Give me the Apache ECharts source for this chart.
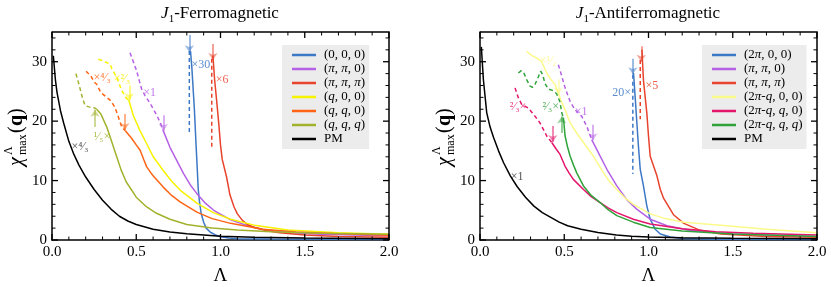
<!DOCTYPE html>
<html><head><meta charset="utf-8">
<script src="https://cdn.jsdelivr.net/npm/echarts@6/dist/echarts.min.js"></script>
<style>html,body{margin:0;padding:0;background:#fff}#c{width:831px;height:287px}</style>
</head><body><div id="c"></div>
<script>
// ---------- Axis ticks ----------
const xTickInterval = 0.5, xMin = 0, xMax = 2;
const yTickInterval = 10, yMin = 0, yMax = 35;
const xMajorTicks = [0, 0.5, 1.0, 1.5, 2.0];
const xMinorTicks = [0.1,0.2,0.3,0.4,0.6,0.7,0.8,0.9,1.1,1.2,1.3,1.4,1.6,1.7,1.8,1.9];
const yMajorTicks = [0, 10, 20, 30];
const yMinorTicks = [2,4,6,8,12,14,16,18,22,24,26,28,32,34];

// ---------- J1-Ferromagnetic (left) ----------
const fmPM = [[0.008,31],[0.02,27],[0.03,24.8],[0.05,21.8],[0.07,19.6],[0.1,16.6],[0.13,14.4],[0.16,12.6],[0.2,10.6],[0.25,8.5],[0.3,6.7],[0.35,5.2],[0.4,4.0],[0.45,3.2],[0.5,2.6],[0.6,1.8],[0.7,1.35],[0.8,1.05],[0.9,0.85],[1.0,0.65],[1.2,0.45],[1.5,0.32],[2.0,0.22]];
const fmQQQdash = [[0.142,28.0],[0.16,26.2],[0.18,24.0],[0.196,22.6],[0.22,22.4],[0.255,22.2],[0.265,22.0]];
const fmQQQ = [[0.265,22.0],[0.29,21.2],[0.325,19.0],[0.355,16.5],[0.384,14.0],[0.41,11.8],[0.44,9.8],[0.5,7.2],[0.56,5.6],[0.62,4.5],[0.7,3.5],[0.8,2.6],[0.95,2.0],[1.1,1.7],[1.3,1.4],[1.6,1.15],[2.0,0.95]];
const fmQQ0dash = [[0.202,28.4],[0.23,27.6],[0.25,26.6],[0.265,26.2],[0.29,24.8],[0.325,24.0],[0.35,23.4],[0.374,22.3],[0.395,20.6],[0.414,19.0],[0.435,18.4]];
const fmQQ0 = [[0.435,18.4],[0.47,17.2],[0.5,16.0],[0.523,15.1],[0.545,13.5],[0.562,12.3],[0.6,10.8],[0.66,8.9],[0.71,7.5],[0.76,6.4],[0.86,4.7],[0.95,3.6],[1.06,2.8],[1.25,1.8],[1.45,1.35],[1.67,1.1],[2.0,0.8]];
const fmQ00dash = [[0.275,30.4],[0.3,30.2],[0.32,29.9],[0.345,29.6],[0.355,28.8],[0.384,27.4],[0.413,25.2],[0.443,23.8],[0.455,23.6]];
const fmQ00 = [[0.455,23.6],[0.483,20.9],[0.522,18.4],[0.562,16.2],[0.601,14.0],[0.66,11.7],[0.71,9.9],[0.76,8.4],[0.86,6.2],[0.957,4.6],[1.06,3.5],[1.2,2.5],[1.4,1.7],[1.7,1.2],[2.0,0.95]];
const fmPP0dash = [[0.463,31.5],[0.48,30.2],[0.502,28.5],[0.52,26.6],[0.532,25.4],[0.552,24.3],[0.58,23.1],[0.62,21.1],[0.645,19.6],[0.66,18.4]];
const fmPP0 = [[0.66,18.4],[0.70,15.6],[0.74,13.4],[0.78,11.2],[0.82,9.3],[0.86,7.8],[0.91,6.2],[0.96,5.0],[1.06,3.4],[1.15,2.5],[1.25,1.8],[1.4,1.25],[1.6,0.95],[2.0,0.7]];
const fm000dash = [[0.815,31.8],[0.815,18.1]];
const fm000 = [[0.822,31.8],[0.83,29],[0.845,22],[0.855,16],[0.862,12],[0.868,8.5],[0.875,6.5],[0.885,4.5],[0.9,3.0],[0.915,2.0],[0.94,1.3],[0.97,0.85],[1.0,0.55],[1.05,0.32],[1.1,0.22],[1.3,0.15],[2.0,0.1]];
const fmPPPdash = [[0.948,30.5],[0.948,15.6]];
const fmPPP = [[0.955,31],[0.965,27],[0.977,23.5],[0.99,19.5],[1.0,16],[1.01,13.6],[1.036,10.6],[1.056,7.6],[1.08,5.6],[1.1,4.4],[1.13,3.3],[1.16,2.6],[1.2,2.1],[1.27,1.6],[1.35,1.2],[1.5,0.85],[1.7,0.6],[2.0,0.45]];

// ---------- J1-Antiferromagnetic (right) ----------
const afPM = [[0.008,32.5],[0.02,27],[0.04,21.4],[0.06,19],[0.08,17.3],[0.11,15],[0.14,13],[0.18,10.8],[0.22,9.0],[0.27,7.2],[0.32,5.7],[0.37,4.6],[0.42,3.8],[0.47,3.0],[0.52,2.4],[0.6,1.8],[0.7,1.25],[0.81,0.85],[0.9,0.65],[1.0,0.5],[1.2,0.38],[1.5,0.28],[2.0,0.2]];
const afQQ0dash = [[0.208,25.6],[0.228,23.9],[0.248,22.8],[0.287,22.2],[0.307,21.5],[0.327,20.8],[0.356,19.7],[0.38,18.4],[0.396,17.5],[0.426,16.4]];
const afQQ0 = [[0.426,16.4],[0.45,15.4],[0.475,14.4],[0.505,12.4],[0.53,11.2],[0.554,10.2],[0.614,8.5],[0.66,7.3],[0.713,6.3],[0.76,5.4],[0.812,4.6],[0.91,3.5],[1.01,2.7],[1.2,1.9],[1.4,1.4],[1.62,1.15],[2.0,0.85]];
const afQQQdash = [[0.228,28.1],[0.245,28.5],[0.262,28.0],[0.277,27.0],[0.297,25.9],[0.312,25.7],[0.327,26.2],[0.347,27.5],[0.36,28.4],[0.372,27.8],[0.386,26.3],[0.406,25.4],[0.436,25.1],[0.455,24.6],[0.475,23.2],[0.485,21.4],[0.495,20.6]];
const afQQQ = [[0.495,20.6],[0.505,17.5],[0.52,15.6],[0.535,14.1],[0.555,12.6],[0.574,11.3],[0.614,9.1],[0.66,7.5],[0.713,6.3],[0.76,5.1],[0.812,4.1],[0.91,3.0],[1.01,2.1],[1.2,1.5],[1.5,1.0],[2.0,0.6]];
const afQ00 = [[0.277,31.7],[0.31,31.0],[0.337,30.6],[0.366,30.0],[0.396,28.1],[0.416,27.2],[0.446,26.1],[0.465,24.7],[0.48,23.5],[0.505,21.9],[0.535,19.7],[0.574,18.0],[0.614,16.4],[0.673,14.1],[0.733,11.3],[0.77,9.8],[0.812,8.5],[0.86,7.1],[0.91,6.0],[1.01,4.4],[1.1,3.6],[1.21,3.0],[1.43,2.5],[1.7,1.8],[2.0,1.2]];
const afPP0dash = [[0.465,29.5],[0.485,27.6],[0.505,25.6],[0.535,23.3],[0.564,21.9],[0.604,20.8],[0.634,19.1],[0.663,16.9]];
const afPP0 = [[0.663,16.9],[0.713,14.1],[0.753,11.9],[0.812,9.1],[0.871,6.8],[0.93,5.2],[1.01,3.5],[1.11,2.4],[1.25,1.6],[1.5,1.0],[2.0,0.6]];
const af2P00dash = [[0.907,27.8],[0.907,11.1]];
const af2P00 = [[0.911,28.1],[0.921,24],[0.931,19.7],[0.941,15.5],[0.951,11.9],[0.97,9.1],[0.99,5.75],[1.01,3.5],[1.04,1.8],[1.07,1.0],[1.13,0.5],[1.2,0.25],[1.4,0.12],[2.0,0.08]];
const afPPPdash = [[0.951,30.3],[0.951,20.3]];
const afPPP = [[0.961,32],[0.97,26.9],[0.99,21.4],[1.0,17.5],[1.01,14.1],[1.05,10.8],[1.07,8.5],[1.09,7.0],[1.15,4.2],[1.21,2.8],[1.3,1.7],[1.43,1.0],[1.7,0.6],[2.0,0.45]];

// ---------- Annotations (data coordinates) ----------
const fmLabels = [["×⁴⁄₃",0.166,15.7,"k"],["¹⁄₅×",0.297,17.3,"olive"],["×⁴⁄₃",0.297,27.3,"orange"],["×²⁄₃",0.415,27.1,"yellow"],["×1",0.58,24.8,"purple"],["×30",0.884,29.5,"blue"],["×6",1.01,27,"red"]];
const afLabels = [["×1",0.22,10.7,"k"],["²⁄₃×",0.226,22.4,"pink"],["²⁄₃×",0.42,22.4,"green"],["×¹⁄₂",0.404,30.2,"lyellow"],["×1",0.6,21.6,"purple"],["20×",0.84,24.8,"blue"],["×5",1.02,26,"red"]];
const fmArrows = [[0.815,34.5,31.6,"blue"],[0.955,33.0,30.3,"red"],[0.459,26.0,23.5,"yellow"],[0.433,21.2,18.5,"orange"],[0.661,21.0,18.4,"purple"],[0.255,19.0,21.9,"olive"]];
const afArrows = [[0.907,30.5,27.9,"blue"],[0.957,32.6,30.0,"red"],[0.465,27.0,24.5,"lyellow"],[0.432,19.2,16.5,"pink"],[0.485,18.0,20.8,"green"],[0.67,19.4,16.8,"purple"]];

const C = {blue:'#3d78c6', purple:'#b561e6', red:'#e8432d', yellow:'#f7f300', orange:'#ff6414', olive:'#a2b22c', k:'#000000', lyellow:'#fbf98a', pink:'#e3166c', green:'#2fa33a'};
const SERIF = '"Liberation Serif","DejaVu Serif",serif';
const GW = 337, GH = 208;

function ln(name, data, col, dashed, p){
  return {type:'line', name, data, xAxisIndex:p, yAxisIndex:p, symbol:'none', showSymbol:false,
    animation:false, silent:true, clip:true,
    lineStyle:{color:col, width:1.5, type: dashed ? [4,3] : 'solid'}, itemStyle:{color:col}};
}
function labels(arr, p){
  return {type:'scatter', xAxisIndex:p, yAxisIndex:p, symbolSize:0, silent:true, animation:false,
    data: arr.map(a=>({name:a[0], value:[a[1],a[2]], label:{color: a[3]==='k' ? '#333' : C[a[3]]}})),
    label:{show:true, position:'inside', formatter:'{b}', fontSize:12, fontFamily:SERIF, opacity:0.85}};
}
function arrows(arr, p){
  return {type:'lines', coordinateSystem:'cartesian2d', xAxisIndex:p, yAxisIndex:p, silent:true, animation:false,
    symbol:['none','arrow'], symbolSize:[0,7], z:5,
    data: arr.map(a=>({coords:[[a[0],a[1]],[a[0],a[2]]], lineStyle:{color:C[a[3]], width:2}}))};
}
// frame (top/right borders) and inward ticks on all four sides, positioned through the axis scales
function frameTicks(p){
  const data = [[xMin, yMin, 4]]
    .concat(xMajorTicks.map(v=>[v, yMin, 0]))
    .concat(xMinorTicks.map(v=>[v, yMin, 1]))
    .concat(yMajorTicks.map(v=>[xMin, v, 2]))
    .concat(yMinorTicks.map(v=>[xMin, v, 3]));
  return {type:'custom', coordinateSystem:'cartesian2d', xAxisIndex:p, yAxisIndex:p, silent:true, animation:false, z:10, clip:false,
    data,
    renderItem:(params, api)=>{
      const cs = params.coordSys;
      const kind = api.value(2);
      const pt = api.coord([api.value(0), api.value(1)]);
      const st = {stroke:'#000', lineWidth: kind===1||kind===3 ? 1 : 1.3, fill:null};
      const top = cs.y, bot = cs.y + cs.height, lft = cs.x, rgt = cs.x + cs.width;
      if (kind === 4) {
        return {type:'polyline', shape:{points:[[lft,top],[rgt,top],[rgt,bot]]}, style:{stroke:'#000', lineWidth:1.5, fill:null}};
      }
      const len = (kind===0||kind===2) ? 6 : 3.5;
      if (kind < 2) {
        const x = pt[0];
        return {type:'group', children:[
          {type:'line', shape:{x1:x, y1:bot, x2:x, y2:bot-len}, style:st},
          {type:'line', shape:{x1:x, y1:top, x2:x, y2:top+len}, style:st}
        ]};
      }
      const y = pt[1];
      return {type:'group', children:[
        {type:'line', shape:{x1:lft, y1:y, x2:lft+len, y2:y}, style:st},
        {type:'line', shape:{x1:rgt, y1:y, x2:rgt-len, y2:y}, style:st}
      ]};
    }};
}
function xax(g){
  return {type:'value', gridIndex:g, position:'bottom', min:xMin, max:xMax, interval:xTickInterval,
    axisLine:{show:true, onZero:false, lineStyle:{color:'#000', width:1.5}}, axisTick:{show:false}, minorTick:{show:false},
    splitLine:{show:false}, minorSplitLine:{show:false},
    axisLabel:{show:true, color:'#000', fontSize:15, fontFamily:SERIF, margin:5, formatter:v=>v.toFixed(1)},
    name:'Λ', nameLocation:'middle', nameGap:27, nameTextStyle:{fontSize:19, fontFamily:SERIF, color:'#000'}};
}
function yax(g){
  return {type:'value', gridIndex:g, position:'left', min:yMin, max:yMax, interval:yTickInterval,
    axisLine:{show:true, onZero:false, lineStyle:{color:'#000', width:1.5}}, axisTick:{show:false}, minorTick:{show:false},
    splitLine:{show:false}, minorSplitLine:{show:false},
    axisLabel:{show:true, showMaxLabel:false, color:'#000', fontSize:15, fontFamily:SERIF, margin:5}};
}
function legend(names, left, top){
  return {orient:'vertical', left, top, data:names, backgroundColor:'#ececec', borderWidth:0,
    padding:[3,4,3,10], itemWidth:24, itemHeight:2.5, itemGap:0, icon:'rect', selectedMode:false,
    textStyle:{fontFamily:SERIF, fontSize:13, lineHeight:14, color:'#000', padding:[0,0,0,3],
      rich:{i:{fontStyle:'italic', fontFamily:SERIF, fontSize:13, lineHeight:14, color:'#000'}}},
    formatter: n => n.slice(2).replace(/([πq])/g, '{i|$1}')};
}
function ylabel(x){
  const f = (t, x, y, size, extra) => ({type:'text', x, y, style:Object.assign({text:t, fontSize:size, fontFamily:SERIF, fill:'#000', align:'left', verticalAlign:'middle'}, extra||{})});
  return {type:'group', x, y:166, rotation:Math.PI/2, children:[
    f('χ', 0, 0, 20, {fontStyle:'italic'}),
    f('Λ', 11, -8, 12),
    f('max', 11, 6, 12),
    f('(', 33, 0, 20),
    f('q', 40, 0, 20, {fontWeight:'bold'}),
    f(')', 51, 0, 20)
  ]};
}
function title(x, txt){
  return {type:'text', x, y:14, style:{text:'{j|J}{s|1}{t|'+txt+'}', align:'center', verticalAlign:'middle',
    fill:'#000', fontFamily:SERIF, fontSize:17,
    rich:{j:{fontStyle:'italic', fontSize:17, fontFamily:SERIF, lineHeight:22, verticalAlign:'middle'},
          s:{fontSize:11, fontFamily:SERIF, lineHeight:11, verticalAlign:'bottom'},
          t:{fontSize:17, fontFamily:SERIF, lineHeight:22, verticalAlign:'middle'}}}};
}

const series = [
  ln('L:(0, 0, 0)', fm000, C.blue, false, 0), ln('Ld1', fm000dash, C.blue, true, 0),
  ln('L:(π, π, 0)', fmPP0, C.purple, false, 0), ln('Ld2', fmPP0dash, C.purple, true, 0),
  ln('L:(π, π, π)', fmPPP, C.red, false, 0), ln('Ld3', fmPPPdash, C.red, true, 0),
  ln('L:(q, 0, 0)', fmQ00, C.yellow, false, 0), ln('Ld4', fmQ00dash, C.yellow, true, 0),
  ln('L:(q, q, 0)', fmQQ0, C.orange, false, 0), ln('Ld5', fmQQ0dash, C.orange, true, 0),
  ln('L:(q, q, q)', fmQQQ, C.olive, false, 0), ln('Ld6', fmQQQdash, C.olive, true, 0),
  ln('L:PM', fmPM, C.k, false, 0),
  ln('R:(2π, 0, 0)', af2P00, C.blue, false, 1), ln('Rd1', af2P00dash, C.blue, true, 1),
  ln('R:(π, π, 0)', afPP0, C.purple, false, 1), ln('Rd2', afPP0dash, C.purple, true, 1),
  ln('R:(π, π, π)', afPPP, C.red, false, 1), ln('Rd3', afPPPdash, C.red, true, 1),
  ln('R:(2π-q, 0, 0)', afQ00, C.lyellow, false, 1),
  ln('R:(2π-q, q, 0)', afQQ0, C.pink, false, 1), ln('Rd5', afQQ0dash, C.pink, true, 1),
  ln('R:(2π-q, q, q)', afQQQ, C.green, false, 1), ln('Rd6', afQQQdash, C.green, true, 1),
  ln('R:PM', afPM, C.k, false, 1),
  labels(fmLabels, 0), labels(afLabels, 1), arrows(fmArrows, 0), arrows(afArrows, 1),
  frameTicks(0), frameTicks(1)
];

const chart = echarts.init(document.getElementById('c'), null, {renderer:'canvas'});
chart.setOption({
  animation:false, backgroundColor:'#ffffff',
  grid:[{left:52, top:32, width:GW, height:GH, outerBoundsMode:'none'}, {left:480, top:32, width:GW, height:GH, outerBoundsMode:'none'}],
  xAxis:[xax(0), xax(1)],
  yAxis:[yax(0), yax(1)],
  legend:[
    legend(['L:(0, 0, 0)','L:(π, π, 0)','L:(π, π, π)','L:(q, 0, 0)','L:(q, q, 0)','L:(q, q, q)','L:PM'], 282, 45),
    legend(['R:(2π, 0, 0)','R:(π, π, 0)','R:(π, π, π)','R:(2π-q, 0, 0)','R:(2π-q, q, 0)','R:(2π-q, q, q)','R:PM'], 702, 45)
  ],
  graphic:[title(220,'-Ferromagnetic'), title(648,'-Antiferromagnetic'), ylabel(17), ylabel(445)],
  series
});
</script></body></html>
